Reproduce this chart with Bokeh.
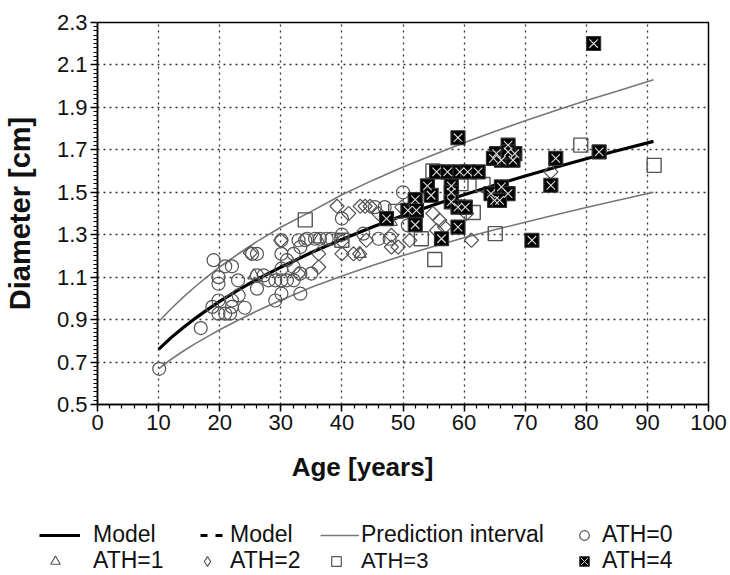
import numpy as np
from bokeh.plotting import figure
from bokeh.layouts import column
from bokeh.models import Legend, LegendItem, FixedTicker, Range1d, Label
from bokeh.embed import file_html
from bokeh.resources import INLINE

# ---------------- data ----------------
curve_age = [10, 12, 14, 16, 18, 20, 23, 26, 30, 35, 40, 45, 50, 55, 60, 65, 70, 75, 80, 85, 91]
model_d = [0.760, 0.814, 0.862, 0.906, 0.947, 0.986, 1.039, 1.088, 1.147, 1.216, 1.278, 1.336,
           1.390, 1.440, 1.488, 1.533, 1.577, 1.618, 1.658, 1.696, 1.740]
upper_d = [0.890, 0.950, 1.005, 1.056, 1.103, 1.148, 1.209, 1.266, 1.335, 1.410, 1.488, 1.556,
           1.619, 1.677, 1.733, 1.786, 1.837, 1.885, 1.932, 1.976, 2.030]
lower_d = [0.668, 0.712, 0.751, 0.787, 0.820, 0.852, 0.897, 0.939, 0.991, 1.052, 1.105, 1.155,
           1.202, 1.245, 1.286, 1.323, 1.359, 1.394, 1.428, 1.461, 1.500]

ath0_age = [10.1, 16.9, 19.0, 19.8, 19.8, 19.8, 18.8, 19.8, 20.9, 21.7, 20.9, 22.0, 22.0, 22.0,
            23.0, 23.1, 24.1, 25.3, 26.1, 26.1, 27.2, 26.1, 28.0, 29.1, 29.1, 30.1, 30.1, 30.1,
            30.1, 30.1, 31.0, 31.0, 32.1, 32.1, 32.9, 34.0, 33.2, 33.2, 35.0, 34.3, 35.6, 36.4,
            37.5, 38.3, 40.0, 40.0, 43.5, 45.4, 46.0, 47.0, 47.8, 50.0, 50.8, 32.1, 33.2]
ath0_d = [0.668, 0.860, 1.180, 1.100, 1.069, 0.990, 0.960, 0.928, 0.928, 0.928, 1.151, 1.151, 0.990, 0.960,
          1.085, 1.014, 0.956, 1.210, 1.210, 1.108, 1.108, 1.046, 1.085, 1.085, 0.990, 1.274, 1.210, 1.140,
          1.085, 1.022, 1.180, 1.085, 1.210, 1.085, 1.274, 1.274, 1.242, 1.022, 1.117, 1.281, 1.281, 1.281,
          1.281, 1.281, 1.300, 1.376, 1.305, 1.430, 1.281, 1.430, 1.281, 1.500, 1.344, 1.148, 1.117]

ath1_age = [25.6, 36.2, 43.0, 48.1]
ath1_d = [1.108, 1.278, 1.210, 1.360]

ath2_age = [25.0, 30.0, 32.9, 36.2, 36.2, 39.2, 41.1, 40.0, 40.0, 41.9, 42.9, 43.0, 43.8, 44.6, 46.0,
            44.0, 48.1, 48.1, 49.2, 49.8, 51.1, 54.9, 56.0, 55.5, 56.8, 60.4, 61.2, 74.2]
ath2_d = [1.214, 1.274, 1.117, 1.210, 1.148, 1.434, 1.400, 1.270, 1.210, 1.210, 1.210, 1.434, 1.434, 1.434, 1.400,
          1.274, 1.297, 1.242, 1.242, 1.430, 1.274, 1.400, 1.368, 1.320, 1.336, 1.400, 1.274, 1.596]

ath3_age = [34.0, 40.0, 48.8, 53.0, 55.2, 54.9, 59.5, 63.1, 61.5, 65.1, 79.1, 91.1]
ath3_d = [1.370, 1.274, 1.410, 1.281, 1.183, 1.600, 1.541, 1.537, 1.405, 1.305, 1.722, 1.627]

ath4_age = [47.3, 50.8, 52.0, 52.2, 52.0, 54.0, 54.6, 55.5, 57.3, 59.3, 60.6, 62.3, 59.0, 57.9, 57.9,
            57.9, 59.0, 60.2, 59.0, 56.3, 64.4, 66.1, 67.2, 65.0, 65.8, 65.3, 67.2, 68.3, 66.1, 68.0,
            67.2, 64.8, 71.1, 75.0, 74.2, 81.2, 82.1]
ath4_d = [1.376, 1.415, 1.465, 1.415, 1.347, 1.530, 1.486, 1.596, 1.596, 1.596, 1.596, 1.596, 1.757, 1.530, 1.500,
          1.455, 1.430, 1.430, 1.336, 1.281, 1.494, 1.525, 1.494, 1.462, 1.462, 1.682, 1.722, 1.682, 1.651, 1.651,
          1.690, 1.660, 1.274, 1.660, 1.533, 2.201, 1.690]

x_ticks = [0, 10, 20, 30, 40, 50, 60, 70, 80, 90, 100]
y_ticks = [0.5, 0.7, 0.9, 1.1, 1.3, 1.5, 1.7, 1.9, 2.1, 2.3]
x_minor = [v for v in range(0, 101, 2)]
y_minor = [round(0.5 + 0.02 * i, 2) for i in range(91)]

x_title = "Age [years]"
y_title = "Diameter [cm]"

FONT = "Liberation Sans"
TXT = "#111111"
MC = "#555555"
PI_C = "#777777"

# ---------------- main chart ----------------
p = figure(width=730, height=445, x_range=Range1d(0, 100), y_range=Range1d(0.5, 2.3),
           output_backend="svg", toolbar_location=None,
           min_border_left=95, min_border_right=22, min_border_top=22, min_border_bottom=41,
           background_fill_color="white", border_fill_color="white")
p.outline_line_color = "black"
p.outline_line_width = 1.5

for ax in (p.xaxis[0], p.yaxis[0]):
    ax.axis_line_color = "black"
    ax.axis_line_width = 1.5
    ax.major_tick_line_color = "black"
    ax.major_tick_line_width = 1.5
    ax.minor_tick_line_color = "black"
    ax.minor_tick_line_width = 1.2
    ax.major_tick_in = 0
    ax.major_tick_out = 7
    ax.minor_tick_in = 0
    ax.minor_tick_out = 4
    ax.major_label_text_font = FONT
    ax.major_label_text_font_size = "22px"
    ax.major_label_text_color = TXT
    ax.axis_label_text_font = FONT
    ax.axis_label_text_font_style = "bold"
    ax.axis_label_text_color = TXT

p.xaxis[0].ticker = FixedTicker(ticks=x_ticks, minor_ticks=x_minor)
p.yaxis[0].ticker = FixedTicker(ticks=y_ticks, minor_ticks=y_minor)
p.yaxis[0].axis_label = y_title
p.yaxis[0].axis_label_text_font_size = "29px"
p.yaxis[0].axis_label_standoff = 18
p.xaxis[0].major_label_standoff = 3
p.yaxis[0].major_label_standoff = 3

for g in (p.xgrid[0], p.ygrid[0]):
    g.grid_line_color = "#333333"
    g.grid_line_width = 1.3
    g.grid_line_dash = "2 4"
p.xgrid[0].ticker = FixedTicker(ticks=x_ticks)
p.ygrid[0].ticker = FixedTicker(ticks=y_ticks)

p.line(curve_age, upper_d, line_color=PI_C, line_width=1.6)
p.line(curve_age, lower_d, line_color=PI_C, line_width=1.6)
p.line(curve_age, model_d, line_color="black", line_width=3.2)

p.scatter(ath0_age, ath0_d, marker="circle", size=13, fill_color=None, line_color=MC, line_width=1.2)
p.scatter(ath1_age, ath1_d, marker="triangle", size=12, fill_color=None, line_color=MC, line_width=1.2)
p.scatter(ath2_age, ath2_d, marker="square", angle=np.pi / 4, size=10, fill_color=None,
          line_color=MC, line_width=1.2)
p.scatter(ath3_age, ath3_d, marker="square", size=14, fill_color=None, line_color=MC, line_width=1.4)
p.scatter(ath4_age, ath4_d, marker="square", size=14, fill_color="black", line_color="#333333", line_width=1.2)
p.scatter(ath4_age, ath4_d, marker="x", size=12, line_color="#dddddd", line_width=1.1)

# ---------------- bottom strip: x title + legend ----------------
H2 = 130
q = figure(width=730, height=H2, x_range=Range1d(0, 730), y_range=Range1d(0, H2),
           output_backend="svg", toolbar_location=None, x_axis_type=None, y_axis_type=None,
           min_border=0, min_border_left=0, min_border_right=0, min_border_top=0, min_border_bottom=0,
           background_fill_color="white", border_fill_color="white")
q.outline_line_color = None
q.xgrid.visible = False
q.ygrid.visible = False
for fig in (p, q):
    if "frame_align" in fig.properties():
        fig.frame_align = False

TOP2 = 445  # canvas y where the strip starts


def sy(canvas_y):
    return H2 - (canvas_y - TOP2)


q.add_layout(Label(x=362, y=sy(466), text=x_title, text_font=FONT, text_font_style="bold",
                   text_font_size="26px", text_color=TXT, text_align="center",
                   text_baseline="middle"))

# legend key renderers (hidden; only their legend keys are shown)
leg_model = q.line(curve_age, model_d, line_color="black", line_width=3.2, visible=False)
leg_model2 = q.line(curve_age, model_d, line_color="black", line_width=3.2, line_dash="7 8", visible=False)
leg_pi = q.line(curve_age, upper_d, line_color=PI_C, line_width=1.6, visible=False)
leg0 = q.scatter(ath0_age, ath0_d, marker="circle", fill_color=None, line_color=MC, line_width=1.2, visible=False)
leg1 = q.scatter(ath1_age, ath1_d, marker="triangle", fill_color=None, line_color=MC, line_width=1.2, visible=False)
leg2 = q.scatter(ath2_age, ath2_d, marker="diamond", fill_color=None, line_color=MC, line_width=1.2, visible=False)
leg3 = q.scatter(ath3_age, ath3_d, marker="square", fill_color=None, line_color=MC, line_width=1.2, visible=False)
leg4a = q.scatter(ath4_age, ath4_d, marker="square", fill_color="black", line_color="#333333", line_width=1,
                  visible=False)
leg4b = q.scatter(ath4_age, ath4_d, marker="x", line_color="#dddddd", line_width=1, visible=False)


def add_leg(label, rends, x0, yc, gw, standoff, fsize="23px"):
    leg = Legend(items=[LegendItem(label=label, renderers=rends)],
                 location=(x0, sy(yc + 12)),
                 glyph_width=gw, glyph_height=24, label_height=24,
                 label_standoff=standoff, padding=0, margin=0, spacing=0,
                 background_fill_alpha=0, border_line_alpha=0,
                 inactive_fill_alpha=0,
                 label_text_font=FONT, label_text_font_size=fsize,
                 label_text_color=TXT)
    q.add_layout(leg, "center")


ROW1, ROW2 = 536, 562
add_leg("Model", [leg_model], 39, ROW1, 41, 13)
add_leg("Model", [leg_model2], 200, ROW1, 23, 7)
add_leg("Prediction interval", [leg_pi], 320, ROW1, 39, 2)
add_leg("ATH=0", [leg0], 572, ROW1, 24, 6)
add_leg("ATH=1", [leg1], 43, ROW2, 24, 26)
add_leg("ATH=2", [leg2], 195, ROW2, 24, 11)
add_leg("ATH=3", [leg3], 324, ROW2, 24, 13, fsize="22px")
add_leg("ATH=4", [leg4a, leg4b], 572, ROW2, 24, 6)

layout = column(p, q, spacing=0)
open("out.html", "w").write(file_html(layout, INLINE))
